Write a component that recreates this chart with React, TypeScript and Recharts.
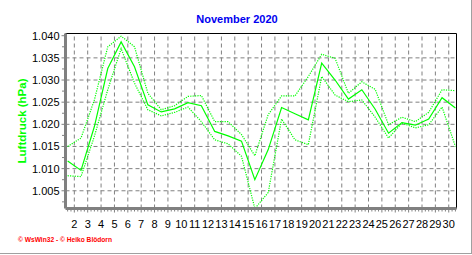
import { LineChart, Line, XAxis, YAxis, ReferenceLine } from "recharts";

// daily values for November 2020 (hPa expressed as bar)
const days = [1, 2, 3, 4, 5, 6, 7, 8, 9, 10, 11, 12, 13, 14, 15, 16, 17, 18, 19, 20, 21, 22, 23, 24, 25, 26, 27, 28, 29, 30];
const dayMean = [1.0117, 1.0096, 1.0195, 1.0326, 1.0386, 1.033, 1.0244, 1.0228, 1.0235, 1.0249, 1.0242, 1.0184, 1.0174, 1.0162, 1.0075, 1.0143, 1.0238, 1.0224, 1.021, 1.0338, 1.03, 1.0257, 1.0278, 1.0234, 1.018, 1.0204, 1.0198, 1.0212, 1.026, 1.0237];
const dayMax = [1.015, 1.0169, 1.0255, 1.0375, 1.0399, 1.0375, 1.027, 1.0233, 1.0242, 1.0263, 1.0265, 1.0206, 1.0206, 1.0177, 1.0129, 1.0222, 1.0264, 1.0264, 1.0308, 1.0358, 1.0349, 1.027, 1.0296, 1.0279, 1.0199, 1.0216, 1.0206, 1.0227, 1.0278, 1.0276];
const dayMin = [1.0084, 1.0082, 1.0173, 1.0278, 1.0371, 1.0293, 1.0233, 1.0219, 1.0227, 1.0239, 1.0206, 1.0165, 1.0156, 1.0128, 1.001, 1.0046, 1.0212, 1.0165, 1.0154, 1.0308, 1.0266, 1.0251, 1.0255, 1.0216, 1.0169, 1.0203, 1.0192, 1.0199, 1.0239, 1.015];

const dayLabels = [2, 3, 4, 5, 6, 7, 8, 9, 10, 11, 12, 13, 14, 15, 16, 17, 18, 19, 20, 21, 22, 23, 24, 25, 26, 27, 28, 29, 30];
const pressureLabels = [1.005, 1.01, 1.015, 1.02, 1.025, 1.03, 1.035, 1.04];

// points sit at noon of each day
const data = days.map((d, i) => ({ t: d + 0.5, mean: dayMean[i], max: dayMax[i], min: dayMin[i] }));

const X_DOMAIN = [1.34, 30.58];
const Y_DOMAIN = [1.001, 1.0405];

// minor ticks: every 6 hours on x, every 0.0025 on y
const xTicks: number[] = [];
for (let q = 6; q <= 122; q++) xTicks.push(q / 4);
const yTicks: number[] = [];
for (let k = 1; k <= 16; k++) yTicks.push(Math.round((1 + k * 0.0025) * 10000) / 10000);

const GREEN = "#00ff00";
const GRID = "#808080";
const FONT = "'Liberation Sans', Arial, sans-serif";

function XTick(props: any) {
  const { x, y, payload } = props;
  const v = payload.value;
  const major = Math.abs(v - Math.round(v)) < 1e-6;
  return (
    <g>
      <line x1={x} x2={x} y1={y + 1} y2={y + (major ? 4 : 3)} stroke={GRID} />
      {major && (
        <text x={x} y={y + 19.5} textAnchor="middle" fontSize={11} fontFamily={FONT} fill="#000">
          {Math.round(v)}
        </text>
      )}
    </g>
  );
}

function YTick(props: any) {
  const { x, y, payload } = props;
  const v = payload.value;
  const major = Math.abs(v * 200 - Math.round(v * 200)) < 1e-6;
  return (
    <g>
      <line x1={x - 1} x2={x - (major ? 4 : 3.5)} y1={y} y2={y} stroke={GRID} />
      {major && (
        <text x={x - 6} y={y + 4} textAnchor="end" fontSize={11} fontFamily={FONT} fill="#000">
          {v.toFixed(3)}
        </text>
      )}
    </g>
  );
}

export default function App() {
  return (
    <div style={{ position: "absolute", left: 0, top: 0, width: 472, height: 255, background: "#fff" }}>
      <div style={{ position: "absolute", left: 0, top: 0, width: 471, height: 253, borderRight: "1px solid #a0a0a0", borderBottom: "1px solid #a0a0a0" }} />
      <LineChart
        width={472}
        height={255}
        data={data}
        margin={{ top: 33.5, right: 15.5, bottom: 16.5, left: 0 }}
        style={{ position: "absolute", left: 0, top: 0 }}
      >
        {dayLabels.map((d) => (
          <ReferenceLine key={"v" + d} x={d} stroke={GRID} strokeDasharray="4 3" />
        ))}
        {pressureLabels.slice(0, -1).map((p) => (
          <ReferenceLine key={"h" + p} y={p} stroke={GRID} strokeDasharray="4 3" />
        ))}
        <XAxis
          dataKey="t"
          type="number"
          domain={X_DOMAIN}
          allowDataOverflow
          ticks={xTicks}
          interval={0}
          height={30}
          tickSize={0}
          tickMargin={0}
          tickLine={false}
          axisLine={{ stroke: GRID, strokeWidth: 3 }}
          tick={XTick}
        />
        <YAxis
          type="number"
          domain={Y_DOMAIN}
          allowDataOverflow
          ticks={yTicks}
          interval={0}
          width={65.5}
          tickSize={0}
          tickMargin={0}
          tickLine={false}
          axisLine={{ stroke: GRID, strokeWidth: 3 }}
          tick={YTick}
        />
        <ReferenceLine y={Y_DOMAIN[1]} stroke="#000" />
        <ReferenceLine x={X_DOMAIN[1]} stroke="#000" />
        <Line dataKey="max" type="linear" stroke={GREEN} strokeWidth={1.2} strokeDasharray="1.2 1.2" dot={false} isAnimationActive={false} />
        <Line dataKey="min" type="linear" stroke={GREEN} strokeWidth={1.2} strokeDasharray="1.2 1.2" dot={false} isAnimationActive={false} />
        <Line dataKey="mean" type="linear" stroke={GREEN} strokeWidth={1.2} dot={false} isAnimationActive={false} />
      </LineChart>
      <svg width={472} height={255} style={{ position: "absolute", left: 0, top: 0, pointerEvents: "none" }}>
        <text x={237} y={23} textAnchor="middle" fontSize={11} fontWeight="bold" fontFamily={FONT} fill="#0000f0">
          November 2020
        </text>
        <text
          x={0}
          y={0}
          transform="translate(26 121) rotate(-90)"
          textAnchor="middle"
          fontSize={11.5}
          fontWeight="bold"
          fontFamily={FONT}
          fill={GREEN}
        >
          Luftdruck (hPa)
        </text>
        <text x={18} y={242} fontSize={7} fontWeight="bold" fontFamily={FONT} fill="#ff0000" textLength={94} lengthAdjust="spacingAndGlyphs">
          © WsWin32 - © Heiko Blödorn
        </text>
      </svg>
    </div>
  );
}
